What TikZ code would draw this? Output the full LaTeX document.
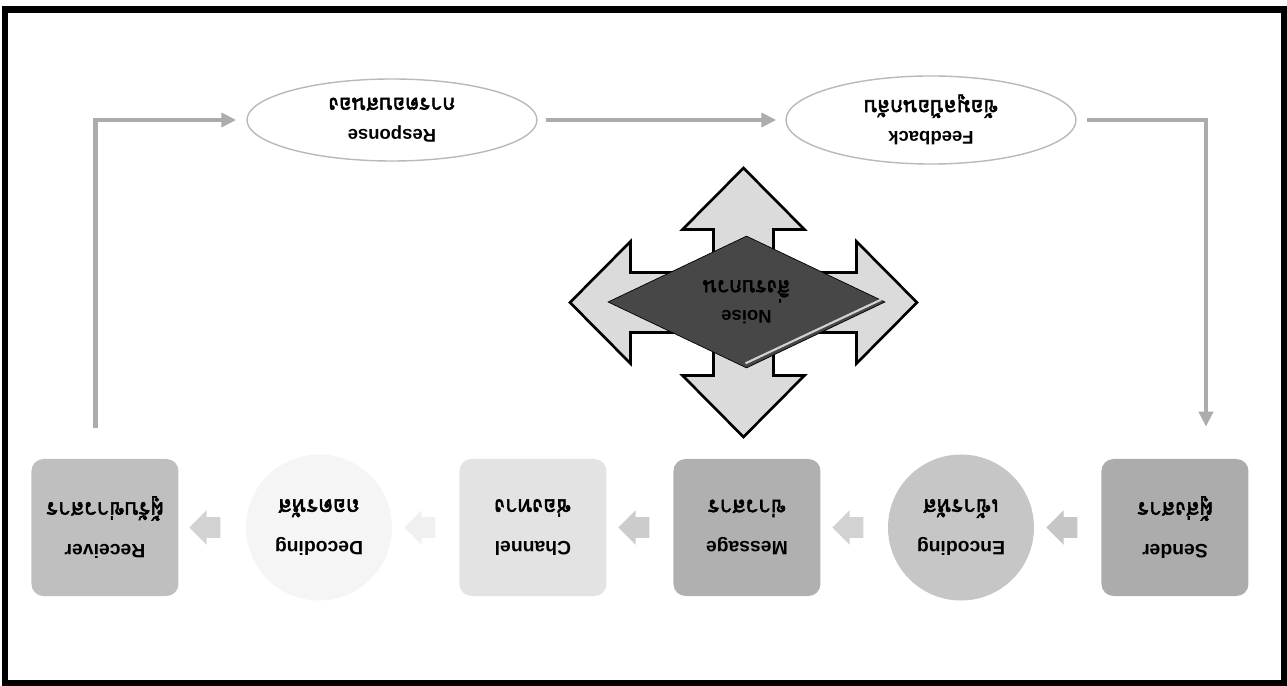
\documentclass[tikz,border=0pt]{standalone}
\usepackage{fontspec}
\setmainfont{Liberation Sans}
\newfontfamily\thaifont[Script=Thai, Scale=1.15, AutoFakeBold=2.5]{Loma}
\usetikzlibrary{arrows.meta, positioning, shapes.geometric, shapes.arrows}

\begin{document}
\begin{tikzpicture}[
  x=1cm,y=1cm, rotate=180, transform shape,
  box/.style={rounded corners=0.24cm, minimum width=2.94cm, minimum height=2.74cm, align=center, font=\fontsize{11}{24}\selectfont\bfseries},
  disc/.style={circle, minimum size=2.92cm, inner sep=0pt, align=center, font=\fontsize{11}{24}\selectfont\bfseries},
  oval/.style={ellipse, draw=gray!55, line width=0.8pt, fill=white, minimum width=5.8cm, minimum height=1.64cm, align=center, font=\fontsize{10.5}{18}\selectfont\bfseries},
  flowarr/.style={single arrow, minimum height=0.62cm, minimum width=0.68cm, single arrow head extend=0.14cm, inner sep=0.2cm},
  link/.style={-{Triangle[length=0.3cm, width=0.28cm]}, draw=gray!65, line width=0.09cm}
]
\useasboundingbox (0,0) rectangle (25.74,13.72);
\draw[line width=0.13cm] (0.05,0.19) rectangle (25.64,13.67);

% process row
\node[box, fill=gray!65] (send) at (2.24,10.55) {Sender\\{\thaifont ผู้ส่งสาร}};
\node[disc, fill=gray!45] (enc) at (6.52,10.55) {Encoding\\{\thaifont เข้ารหัส}};
\node[box, fill=gray!62] (msg) at (10.80,10.55) {Message\\{\thaifont ข่าวสาร}};
\node[box, fill=gray!22] (chan) at (15.08,10.55) {Channel\\{\thaifont ช่องทาง}};
\node[disc, fill=gray!8] (dec) at (19.36,10.55) {Decoding\\{\thaifont ถอดรหัส}};
\node[box, fill=gray!50] (recv) at (23.64,10.55) {Receiver\\{\thaifont ผู้รับข่าวสาร}};

% small flow arrows
\node[flowarr, fill=gray!45] (a1) at (4.40,10.55) {};
\node[flowarr, fill=gray!35] (a2) at (8.68,10.55) {};
\node[flowarr, fill=gray!40] (a3) at (12.96,10.55) {};
\node[flowarr, fill=gray!12] (a4) at (17.24,10.55) {};
\node[flowarr, fill=gray!35] (a5) at (21.54,10.55) {};

% feedback loop
\node[oval] (fb) at (7.12,2.40) {Feedback\\{\thaifont ข้อมูลป้อนกลับ}};
\node[oval] (resp) at (17.90,2.40) {Response\\{\thaifont การตอบสนอง}};

\coordinate (rstart) at ([xshift=0.19cm, yshift=-0.62cm]recv.south);
\coordinate (sstop) at ([xshift=-0.62cm, yshift=-0.64cm]send.south);

\draw[link, shorten >=0.2cm] (rstart) |- (resp.east);
\draw[link, shorten <=0.16cm, shorten >=0.18cm] (resp.west) -- (fb.east);
\draw[link, shorten <=0.2cm] (fb.west) -| (sstop);

% noise cross
\coordinate (c) at (10.87,6.05);
\draw[fill=gray!28, line width=1.5pt, line join=miter]
  (c) ++(0,2.69) -- ++(1.22,-1.23) -- ++(-0.62,0) -- ++(0,-0.86)
  -- ++(1.66,0) -- ++(0,0.62) -- ++(1.21,-1.22) -- ++(-1.21,-1.22) -- ++(0,0.62)
  -- ++(-1.66,0) -- ++(0,-0.86) -- ++(0.62,0) -- ++(-1.22,-1.23)
  -- ++(-1.22,1.23) -- ++(0.62,0) -- ++(0,0.86) -- ++(-1.66,0) -- ++(0,-0.62)
  -- ++(-1.21,1.22) -- ++(1.21,1.22) -- ++(0,-0.62) -- ++(1.66,0) -- ++(0,0.86)
  -- ++(-0.62,0) -- cycle;

\node[diamond, fill=black!72, draw=black, thin, minimum width=5.54cm, minimum height=2.64cm, inner sep=0pt, align=center, font=\fontsize{10.5}{17}\selectfont\bfseries] (dia) at (10.81,6.04) {Noise\\{\thaifont สิ่งรบกวน}};
\draw[gray!35, line width=1.2pt] ([shift={(0.08,-0.05)}]dia.west) -- ([shift={(0.02,-0.1)}]dia.north);

\end{tikzpicture}
\end{document}
